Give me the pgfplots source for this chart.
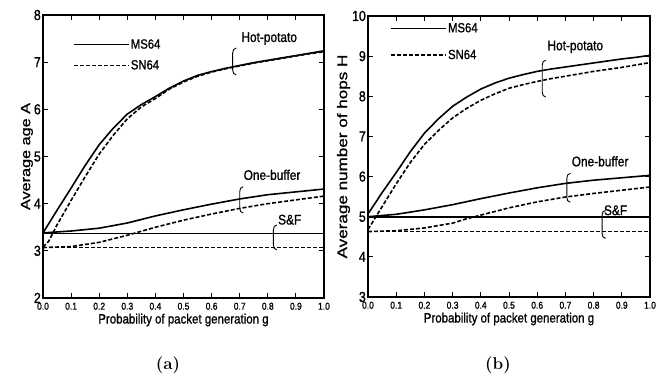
\documentclass[border=0pt]{standalone}
\usepackage{fontspec}
\usepackage{pgfplots}
\pgfplotsset{compat=1.18}
\newfontfamily\hfont{Liberation Sans}[FakeStretch=0.85, FakeBold=1]
\newfontfamily\vfont{Liberation Sans}[FakeStretch=1.22, FakeBold=1]
\newcommand{\fs}[1]{\fontsize{#1}{#1}\selectfont}
\newcommand{\brk}[3]{%
  \draw[line width=0.9pt] ([xshift=3.5pt]axis cs:#1,#2) to[out=180,in=90] ([yshift=-5pt]axis cs:#1,#2) -- ([yshift=5pt]axis cs:#1,#3) to[out=-90,in=180] ([xshift=3.5pt]axis cs:#1,#3);}
\pgfplotsset{
  common/.style={
    scale only axis, anchor=south west,
    xmin=0, xmax=1,
    xtick={0,0.1,0.2,0.3,0.4,0.5,0.6,0.7,0.8,0.9,1.0},
    tick align=inside, major tick length=5pt,
    axis line style={line width=1.3pt}, every tick/.style={line width=0.9pt, black},
    /pgf/number format/assume math mode=true,
    xticklabel style={font=\hfont\fs{10}, inner sep=0.5pt, text height=7pt, text depth=0pt, yshift=-4pt, /pgf/number format/.cd, fixed, fixed zerofill, precision=1},
    yticklabel style={font=\hfont\fs{14.5}, inner sep=0.5pt, text height=10pt, text depth=0pt, xshift=-1.5pt, yshift=0pt},
    xlabel={Probability of packet generation g},
    xlabel style={font=\hfont\fs{13.5}, yshift=0pt},
    legend cell align=left,
    legend image code/.code={\draw[##1] (0pt,0pt) -- (55pt,0pt);},
    ms/.style={black, line width=1.6pt},
    sn/.style={black, line width=1.6pt, dash pattern=on 4pt off 2pt},
  }
}
\begin{document}
\begin{tikzpicture}
\path[use as bounding box] (0,0) rectangle (661pt,374pt);
% ---------------- (a)
\begin{axis}[common, at={(43pt,76pt)}, width=281pt, height=283pt,
  ymin=2, ymax=8, ytick={2,3,4,5,6,7,8},
  ylabel={Average age A}, ylabel style={font=\vfont\fs{13.3}}, ylabel shift=-3pt,
  legend style={at={(axis cs:0.107,7.51)}, anchor=north west, draw=none, fill=none, font=\hfont\fs{13.3}, row sep=8pt, inner sep=0pt, nodes={inner sep=1pt}}]
\addplot[ms] coordinates {(0,3.38)(0.05,3.86)(0.1,4.33)(0.15,4.81)(0.2,5.25)(0.25,5.6)(0.3,5.9)(0.35,6.1)(0.4,6.27)(0.45,6.45)(0.5,6.6)(0.55,6.72)(0.6,6.8)(0.65,6.87)(0.7,6.93)(0.75,6.99)(0.8,7.04)(0.85,7.09)(0.9,7.14)(0.95,7.19)(1,7.24)};
\addlegendentry{MS64}
\addplot[sn] coordinates {(0,3.08)(0.02,3.2)(0.05,3.55)(0.1,4.07)(0.15,4.57)(0.2,5.05)(0.25,5.45)(0.3,5.8)(0.35,6.05)(0.4,6.23)(0.45,6.43)(0.5,6.58)(0.55,6.7)(0.6,6.79)(0.65,6.86)(0.7,6.92)(0.75,6.98)(0.8,7.03)(0.85,7.08)(0.9,7.13)(0.95,7.18)(1,7.22)};
\addlegendentry{SN64}
\addplot[ms, forget plot] coordinates {(0,3.38)(0.1,3.42)(0.2,3.48)(0.3,3.59)(0.4,3.74)(0.5,3.87)(0.6,3.99)(0.7,4.1)(0.8,4.19)(0.9,4.25)(1,4.31)};
\addplot[sn, forget plot] coordinates {(0,3.07)(0.1,3.09)(0.2,3.18)(0.3,3.33)(0.4,3.5)(0.5,3.65)(0.6,3.78)(0.7,3.9)(0.8,4.0)(0.9,4.08)(1,4.16)};
\addplot[ms, forget plot] coordinates {(0,3.37)(1,3.37)};
\addplot[sn, forget plot] coordinates {(0,3.07)(1,3.07)};
\node[font=\hfont\fs{14}] at (axis cs:0.805,7.5) {Hot-potato};
\node[font=\hfont\fs{14}] at (axis cs:0.815,4.61) {One-buffer};
\node[font=\hfont\fs{14}] at (axis cs:0.878,3.66) {S\&F};
\brk{0.675}{7.3}{6.73}
\brk{0.70}{4.36}{3.8}
\brk{0.82}{3.55}{3.02}
\end{axis}
% ---------------- (b)
\begin{axis}[common, at={(368pt,77pt)}, width=282pt, height=281pt,
  ymin=3, ymax=10, ytick={3,4,5,6,7,8,9,10},
  ylabel={Average number of hops H}, ylabel style={font=\vfont\fs{14}}, ylabel shift=-2pt,
  legend style={at={(axis cs:0.079,9.855)}, anchor=north west, draw=none, fill=none, font=\hfont\fs{13.3}, row sep=14pt, inner sep=0pt, nodes={inner sep=1pt}}]
\addplot[ms] coordinates {(0,5.07)(0.05,5.6)(0.1,6.1)(0.15,6.62)(0.2,7.08)(0.25,7.44)(0.3,7.75)(0.35,7.98)(0.4,8.18)(0.45,8.33)(0.5,8.45)(0.55,8.54)(0.6,8.62)(0.65,8.68)(0.7,8.73)(0.75,8.78)(0.8,8.83)(0.85,8.88)(0.9,8.93)(0.95,8.97)(1,9.02)};
\addlegendentry{MS64}
\addplot[sn] coordinates {(0,4.68)(0.05,5.25)(0.1,5.82)(0.15,6.35)(0.2,6.8)(0.25,7.15)(0.3,7.46)(0.35,7.7)(0.4,7.9)(0.45,8.06)(0.5,8.2)(0.55,8.29)(0.6,8.37)(0.65,8.44)(0.7,8.5)(0.75,8.56)(0.8,8.62)(0.85,8.67)(0.9,8.72)(0.95,8.78)(1,8.84)};
\addlegendentry{SN64}
\addplot[ms, forget plot] coordinates {(0,5.0)(0.1,5.06)(0.2,5.17)(0.3,5.3)(0.4,5.45)(0.5,5.59)(0.6,5.72)(0.7,5.83)(0.8,5.91)(0.9,5.97)(1,6.03)};
\addplot[sn, forget plot] coordinates {(0,4.63)(0.1,4.65)(0.2,4.72)(0.3,4.84)(0.35,4.95)(0.4,5.04)(0.5,5.22)(0.6,5.37)(0.7,5.49)(0.8,5.58)(0.9,5.66)(1,5.74)};
\addplot[ms, forget plot] coordinates {(0,5.0)(1,5.0)};
\addplot[sn, forget plot] coordinates {(0,4.63)(1,4.63)};
\node[font=\hfont\fs{14}] at (axis cs:0.735,9.23) {Hot-potato};
\node[font=\hfont\fs{14}] at (axis cs:0.823,6.38) {One-buffer};
\node[font=\hfont\fs{14}] at (axis cs:0.878,5.16) {S\&F};
\brk{0.618}{8.9}{7.98}
\brk{0.705}{6.08}{5.36}
\brk{0.83}{5.16}{4.46}
\end{axis}
\node[font=\fs{17}\bfseries] at (168pt,9pt) {(a)};
\node[font=\fs{17}\bfseries] at (498pt,9pt) {(b)};
\end{tikzpicture}
\end{document}
